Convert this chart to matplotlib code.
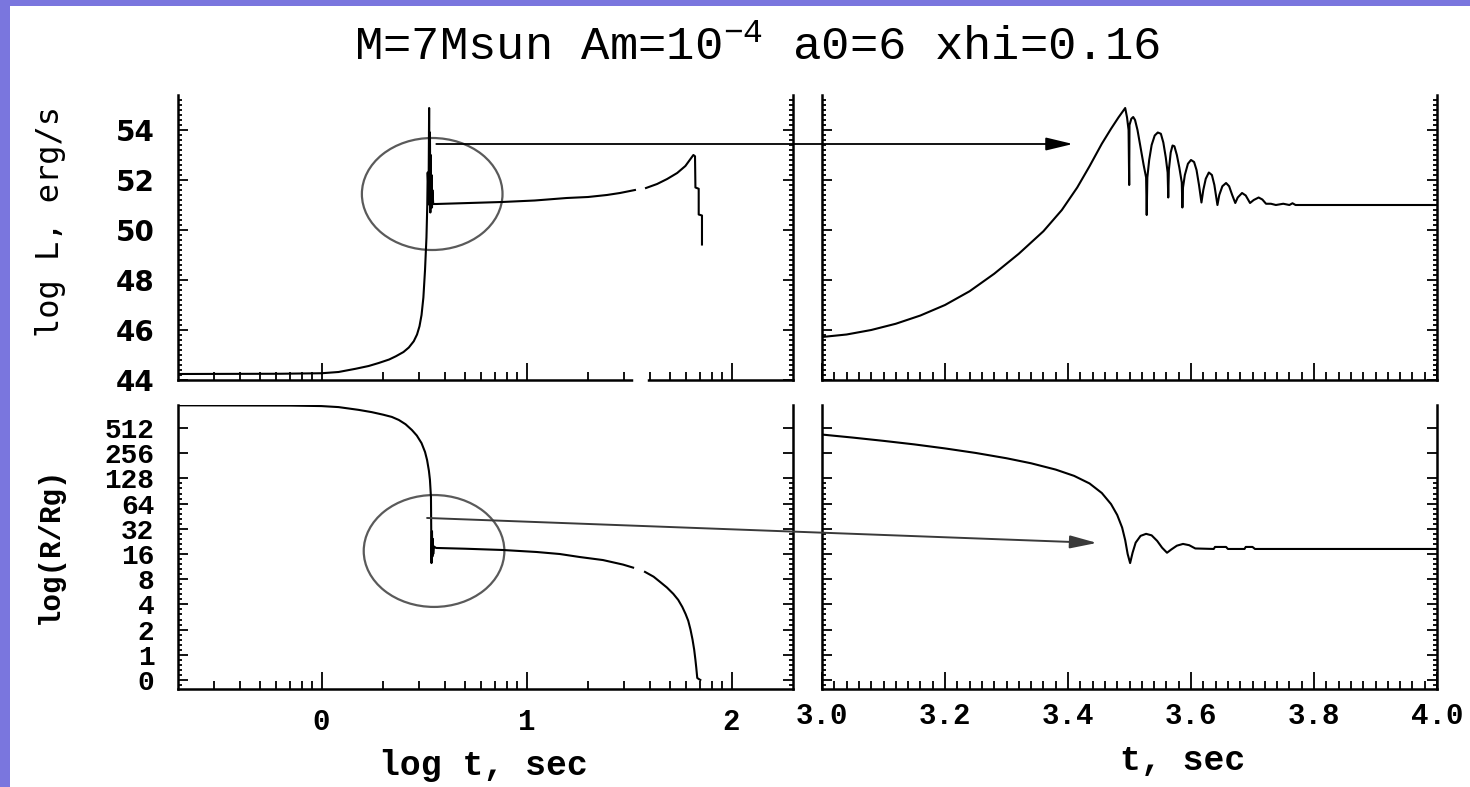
import matplotlib
matplotlib.use("Agg")
import matplotlib.pyplot as plt
import numpy as np
from matplotlib.patches import Ellipse, Rectangle, ConnectionPatch

nan = np.nan

# luminosity vs log time (whole run)
tl_logt = [-0.711, -0.20, 0.0, 0.083, 0.167, 0.23, 0.279, 0.33, 0.363, 0.40, 0.426,
           0.45, 0.466, 0.478, 0.488, 0.497, 0.505, 0.512, 0.516,
           0.518, 0.520, 0.523, 0.525, 0.527, 0.529, 0.531, 0.533, 0.535, 0.537,
           0.539, 0.541, 0.545, 0.559, 0.72, 0.88, 1.04, 1.196, 1.30, 1.392, 1.456, 1.529,
           1.55, 1.583, 1.637, 1.686, 1.735, 1.775, 1.814, 1.822, 1.824, 1.840, 1.840,
           1.856, 1.856]
tl_logL = [44.24, 44.25, 44.27, 44.32, 44.45, 44.56, 44.68, 44.82, 44.95, 45.12, 45.30,
           45.55, 45.82, 46.15, 46.60, 47.30, 48.40, 49.70, 51.00,
           52.3, 51.9, 52.3, 54.88, 51.0, 53.9, 50.7, 53.0, 51.0, 52.2,
           50.9, 51.6, 51.04, 51.04, 51.08, 51.12, 51.18, 51.28, 51.32, 51.40, 51.48, 51.60,
           nan, 51.68, 51.84, 52.04, 52.28, 52.56, 53.00, 52.95, 51.70, 51.65, 50.62,
           50.58, 49.42]

# luminosity vs time around the bounce
tr_t = [3.000, 3.040, 3.080, 3.120, 3.160, 3.200, 3.240, 3.280, 3.320, 3.360, 3.390,
        3.415, 3.435, 3.455, 3.470, 3.482, 3.493, 3.496, 3.4985, 3.4995, 3.500, 3.503,
        3.506, 3.509, 3.513, 3.518, 3.523, 3.527, 3.528, 3.529, 3.532, 3.536, 3.541,
        3.546, 3.551, 3.555, 3.559, 3.562, 3.563, 3.564, 3.567, 3.570, 3.573, 3.577,
        3.581, 3.585, 3.586, 3.587, 3.590, 3.595, 3.600, 3.605, 3.609, 3.613, 3.617,
        3.620, 3.624, 3.629, 3.634, 3.638, 3.643, 3.646, 3.651, 3.657, 3.662, 3.667,
        3.672, 3.676, 3.683, 3.689, 3.696, 3.702, 3.710, 3.716, 3.722, 3.730, 3.738,
        3.750, 3.760, 3.765, 3.770, 4.000]
tr_logL = [45.72, 45.82, 46.00, 46.25, 46.58, 47.00, 47.55, 48.25, 49.05, 49.95, 50.80,
           51.70, 52.55, 53.45, 54.05, 54.50, 54.88, 54.50, 54.00, 51.80, 54.20, 54.45,
           54.52, 54.40, 54.00, 53.30, 52.60, 52.10, 50.60, 52.10, 52.80, 53.40, 53.78,
           53.90, 53.85, 53.50, 52.90, 52.30, 51.30, 52.40, 53.10, 53.38, 53.35, 53.00,
           52.50, 51.90, 50.90, 51.70, 52.20, 52.65, 52.80, 52.72, 52.40, 51.80, 51.10,
           51.60, 52.05, 52.30, 52.20, 51.80, 51.00, 51.40, 51.75, 51.88, 51.75, 51.40,
           51.08, 51.30, 51.48, 51.38, 51.08, 51.20, 51.30, 51.22, 51.05, 51.05, 51.00,
           51.05, 51.00, 51.07, 51.00, 51.00]

# radius vs log time (whole run)
bl_logt = [-0.711, -0.15, 0.0, 0.083, 0.181, 0.245, 0.30, 0.343, 0.377, 0.41, 0.441,
           0.465, 0.488, 0.505, 0.515, 0.524, 0.529, 0.534, 0.5365, 0.539, 0.541, 0.543,
           0.545, 0.548, 0.559, 0.70, 0.882, 1.049, 1.162, 1.260, 1.373, 1.471, 1.520,
           1.55, 1.578, 1.620, 1.652, 1.685, 1.716, 1.740, 1.760, 1.776, 1.789, 1.800,
           1.810, 1.818, 1.824, 1.828, 1.833, 1.848]
bl_logR = [9.90, 9.89, 9.87, 9.83, 9.72, 9.63, 9.53, 9.44, 9.32, 9.15, 8.92,
           8.70, 8.40, 8.05, 7.73, 7.30, 6.94, 6.26, 3.64, 4.90, 3.90, 4.60,
           4.00, 4.30, 4.24, 4.21, 4.16, 4.08, 4.00, 3.88, 3.76, 3.58, 3.46,
           nan, 3.29, 3.10, 2.89, 2.67, 2.42, 2.18, 1.90, 1.62, 1.35, 1.00,
           0.60, 0.20, -0.20, -0.50, -0.92, -1.00]

# radius vs time around the bounce
br_t = [3.000, 3.050, 3.100, 3.150, 3.200, 3.250, 3.300, 3.340, 3.380, 3.410, 3.435,
        3.455, 3.470, 3.480, 3.488, 3.493, 3.497, 3.501, 3.505, 3.510, 3.518, 3.527,
        3.536, 3.545, 3.553, 3.561, 3.568, 3.577, 3.587, 3.597, 3.607, 3.637, 3.639,
        3.657, 3.660, 3.687, 3.689, 3.700, 3.704, 4.000]
br_logR = [8.74, 8.62, 8.49, 8.35, 8.19, 8.01, 7.80, 7.60, 7.35, 7.10, 6.80,
           6.42, 5.98, 5.55, 5.05, 4.55, 4.00, 3.64, 4.05, 4.45, 4.72, 4.80,
           4.74, 4.52, 4.25, 4.05, 4.18, 4.33, 4.40, 4.35, 4.22, 4.20, 4.28,
           4.28, 4.20, 4.20, 4.28, 4.28, 4.20, 4.20]

logL_ticks = [44, 46, 48, 50, 52, 54]
r_ticks = [-1, 0, 1, 2, 3, 4, 5, 6, 7, 8, 9]
r_labels = ["0", "1", "2", "4", "8", "16", "32", "64", "128", "256", "512"]
logt_ticks = [0, 1, 2]
t_ticks = [3.0, 3.2, 3.4, 3.6, 3.8, 4.0]

W, H = 1470, 787
fig = plt.figure(figsize=(W / 100, H / 100), dpi=100)
fig.patch.set_facecolor("white")
purple = "#7a76de"
fig.add_artist(Rectangle((0, 0), 10 / W, 1, transform=fig.transFigure, color=purple, lw=0))
fig.add_artist(Rectangle((0, 1 - 6 / H), 1, 6 / H, transform=fig.transFigure, color=purple, lw=0))


def box(x0, x1, y0, y1):
    return [x0 / W, 1 - y1 / H, (x1 - x0) / W, (y1 - y0) / H]


ax_tl = fig.add_axes(box(178, 793, 95, 380))
ax_tr = fig.add_axes(box(822, 1437, 95, 380))
ax_bl = fig.add_axes(box(178, 793, 405, 689))
ax_br = fig.add_axes(box(822, 1437, 405, 689))

lw = 1.5
ax_tl.plot(tl_logt, tl_logL, color="black", lw=lw)
ax_tr.plot(tr_t, tr_logL, color="black", lw=lw)
ax_bl.plot(bl_logt, bl_logR, color="black", lw=lw)
ax_br.plot(br_t, br_logR, color="black", lw=lw)

logL_lim = (44, 55.4)
r_lim = (-1.357, 9.913)
logt_lim = (-0.7, 2.3)
t_lim = (3.0, 4.0)

# minor ticks on log axis: 2..9 per decade
logt_minor = [np.log10(m * 10.0 ** e) for e in (-1, 0, 1) for m in range(2, 10)]
logt_minor = [v for v in logt_minor if logt_lim[0] + 0.01 < v < logt_lim[1]]

for ax in (ax_tl, ax_tr, ax_bl, ax_br):
    ax.spines["top"].set_visible(False)
    for s in ("left", "right", "bottom"):
        ax.spines[s].set_linewidth(1.8)
    ax.tick_params(which="both", direction="in", top=False, right=True, width=1.3)
    ax.tick_params(axis="y", which="major", length=7)
    ax.tick_params(axis="y", which="minor", length=3)
    ax.tick_params(axis="x", which="major", length=12)
    ax.tick_params(axis="x", which="minor", length=5.5)

for ax in (ax_tl, ax_tr):
    ax.set_ylim(*logL_lim)
    ax.set_yticks(logL_ticks)
    ax.set_yticks(np.arange(44, 55.4, 0.2), minor=True)
for ax in (ax_bl, ax_br):
    ax.set_ylim(*r_lim)
    ax.set_yticks(r_ticks)
    ax.set_yticks(np.arange(-1.2, 7.01, 0.2), minor=True)
for ax in (ax_tl, ax_bl):
    ax.set_xlim(*logt_lim)
    ax.set_xticks(logt_ticks)
    ax.set_xticks(logt_minor, minor=True)
for ax in (ax_tr, ax_br):
    ax.set_xlim(*t_lim)
    ax.set_xticks(t_ticks)
    ax.set_xticks(np.arange(3.02, 4.0, 0.02), minor=True)

ax_tl.tick_params(labelbottom=False)
ax_tr.tick_params(labelbottom=False, labelleft=False)
ax_br.tick_params(labelleft=False)

ax_tl.set_yticklabels([str(v) for v in logL_ticks])
ax_tl.tick_params(axis="y", pad=17)
for lab in ax_tl.get_yticklabels():
    lab.set_fontfamily("DejaVu Sans")
    lab.set_fontweight("bold")
    lab.set_fontsize(20)

ax_bl.set_yticklabels(r_labels)
ax_bl.tick_params(axis="y", pad=17)
for lab in ax_bl.get_yticklabels():
    lab.set_fontfamily("Liberation Mono")
    lab.set_fontweight("bold")
    lab.set_fontsize(20)

ax_bl.set_xticklabels([str(v) for v in logt_ticks])
ax_bl.tick_params(axis="x", pad=14)
ax_br.set_xticklabels([f"{v:.1f}" for v in t_ticks])
ax_br.tick_params(axis="x", pad=9)
for ax in (ax_bl, ax_br):
    for lab in ax.get_xticklabels():
        lab.set_fontfamily("Liberation Mono")
        lab.set_fontweight("bold")
        lab.set_fontsize(21)

# break in the bottom axis where the output is missing
ax_tl.plot([1.535, 1.58], [44, 44], color="white", lw=4, clip_on=False, zorder=5)

# circles around the bounce and arrows to the zoomed panels
ring = "#5a5a5a"
ax_tl.add_patch(Ellipse((0.54, 51.44), 0.686, 4.48, fill=False, ec=ring, lw=1.6))
ax_bl.add_patch(Ellipse((0.549, 4.12), 0.686, 4.44, fill=False, ec=ring, lw=1.6))

head = "-|>,head_length=0.75,head_width=0.18"
arr_top = ConnectionPatch(xyA=(0.56, 53.44), coordsA=ax_tl.transData,
                          xyB=(3.408, 53.44), coordsB=ax_tr.transData,
                          arrowstyle=head, mutation_scale=22, color="black", lw=1.3,
                          shrinkA=0, shrinkB=0)
fig.add_artist(arr_top)
arr_bot = ConnectionPatch(xyA=(0.515, 5.43), coordsA=ax_bl.transData,
                          xyB=(3.447, 4.44), coordsB=ax_br.transData,
                          arrowstyle=head, mutation_scale=22, color="#3a3a3a", lw=1.4,
                          shrinkA=0, shrinkB=0)
fig.add_artist(arr_bot)

plt.rcParams["mathtext.fontset"] = "custom"
plt.rcParams["mathtext.rm"] = "Liberation Mono"
fig.text(757 / W, 1 - 48 / H, r"M=7Msun Am=10$^{\mathrm{-4}}$ a0=6 xhi=0.16",
         ha="center", va="center", fontfamily="Liberation Mono", fontsize=34)

fig.text(50 / W, 1 - 222 / H, "log L, erg/s", rotation=90, ha="center", va="center",
         fontfamily="DejaVu Sans Mono", fontsize=23)
fig.text(50 / W, 1 - 545 / H, "log(R/Rg)", rotation=90, ha="center", va="center",
         fontfamily="Liberation Mono", fontweight="bold", fontsize=21)
fig.text(483 / W, 1 - 765 / H, "log t, sec", ha="center", va="center",
         fontfamily="Liberation Mono", fontweight="bold", fontsize=25)
fig.text(1183 / W, 1 - 760 / H, "t, sec", ha="center", va="center",
         fontfamily="Liberation Mono", fontweight="bold", fontsize=25)

fig.savefig("out.png", dpi=100, facecolor=fig.get_facecolor())
